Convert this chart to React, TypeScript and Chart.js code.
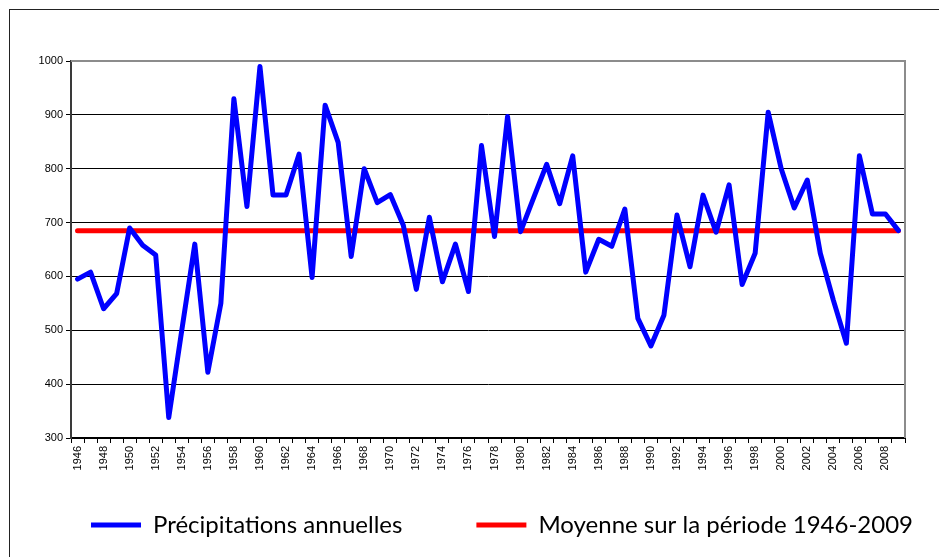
import React, { useEffect, useRef } from 'react';
import { Chart, registerables } from 'chart.js';

Chart.register(...registerables);

const years = [
  '1946', '1947', '1948', '1949', '1950', '1951', '1952', '1953', '1954', '1955',
  '1956', '1957', '1958', '1959', '1960', '1961', '1962', '1963', '1964', '1965',
  '1966', '1967', '1968', '1969', '1970', '1971', '1972', '1973', '1974', '1975',
  '1976', '1977', '1978', '1979', '1980', '1981', '1982', '1983', '1984', '1985',
  '1986', '1987', '1988', '1989', '1990', '1991', '1992', '1993', '1994', '1995',
  '1996', '1997', '1998', '1999', '2000', '2001', '2002', '2003', '2004', '2005',
  '2006', '2007', '2008', '2009',
];

const precipitation = [
  595, 608, 540, 568, 690, 658, 640, 338, 500, 660,
  422, 550, 930, 730, 990, 751, 751, 827, 598, 918,
  849, 637, 800, 737, 752, 695, 576, 710, 590, 660,
  572, 843, 674, 897, 683, 746, 808, 735, 824, 608,
  669, 656, 725, 522, 471, 528, 714, 618, 751, 682,
  770, 585, 643, 905, 800, 727, 779, 643, 556, 476,
  824, 716, 716, 685,
];

const meanValue = 685;

const seriesNames = ['Précipitations annuelles', 'Moyenne sur la période 1946-2009'];
const seriesColors = ['#0000FF', '#FF0000'];

const yMin = 300;
const yMax = 1000;
const yStep = 100;

const CANVAS_W = 1004;
const CANVAS_H = 557;

const plotFrame = {
  id: 'plotFrame',
  beforeDatasetsDraw(chart: any) {
    const { ctx, chartArea } = chart;
    ctx.save();
    ctx.strokeStyle = '#8c8c8c';
    ctx.lineWidth = 2;
    ctx.beginPath();
    ctx.moveTo(chartArea.left, chartArea.top);
    ctx.lineTo(chartArea.right, chartArea.top);
    ctx.lineTo(chartArea.right, chartArea.bottom);
    ctx.stroke();
    ctx.restore();
  },
};

export default function App() {
  const canvasRef = useRef<HTMLCanvasElement | null>(null);

  useEffect(() => {
    if (!canvasRef.current) return;
    const chart = new Chart(canvasRef.current, {
      type: 'line',
      data: {
        labels: years,
        datasets: [
          {
            label: seriesNames[0],
            data: precipitation,
            borderColor: seriesColors[0],
            backgroundColor: seriesColors[0],
            borderWidth: 5,
            pointRadius: 0,
            tension: 0,
            borderCapStyle: 'round',
            borderJoinStyle: 'round',
            yAxisID: 'y',
          },
          {
            label: seriesNames[1],
            data: years.map(() => meanValue),
            borderColor: seriesColors[1],
            backgroundColor: seriesColors[1],
            borderWidth: 5,
            pointRadius: 0,
            tension: 0,
            borderCapStyle: 'round',
            borderJoinStyle: 'round',
            yAxisID: 'y',
          },
        ],
      },
      options: {
        animation: false,
        responsive: false,
        maintainAspectRatio: false,
        layout: { padding: { left: 0, right: 0, top: 61, bottom: 10 } },
        plugins: {
          tooltip: { enabled: false },
          title: { display: false },
          legend: {
            display: true,
            position: 'bottom',
            align: 'center',
            labels: {
              usePointStyle: true,
              pointStyle: 'line',
              pointStyleWidth: 50,
              padding: 74,
              color: '#000',
              font: { family: 'Lato', size: 24 },
            },
          },
        },
        scales: {
          x: {
            type: 'category',
            offset: true,
            grid: {
              display: true,
              drawOnChartArea: false,
              drawTicks: true,
              tickLength: 5,
              offset: true,
              color: '#000',
              lineWidth: 1,
            },
            border: { display: true, color: '#000', width: 2 },
            ticks: {
              autoSkip: false,
              maxRotation: 90,
              minRotation: 90,
              mirror: true,
              padding: -8,
              labelOffset: 13.2,
              color: '#000',
              font: { family: 'Liberation Sans', size: 11 },
              callback: function (this: any, val: any, idx: number) {
                return idx % 2 === 0 ? this.getLabelForValue(val) : '';
              },
            },
            afterFit: (s: any) => {
              s.height = 1;
            },
          },
          y: {
            type: 'linear',
            position: 'left',
            min: yMin,
            max: yMax,
            grid: {
              display: true,
              drawOnChartArea: true,
              drawTicks: true,
              tickLength: 5,
              color: '#000',
              lineWidth: 1,
            },
            border: { display: true, color: '#3a3a3a', width: 2 },
            ticks: {
              stepSize: yStep,
              padding: 3,
              color: '#000',
              font: { family: 'Liberation Sans', size: 11 },
              callback: (v: any) => String(v),
            },
            afterFit: (s: any) => {
              s.width = 71;
            },
          },
          spacer: {
            type: 'linear',
            position: 'right',
            display: true,
            grid: { display: false, drawTicks: false },
            border: { display: false },
            ticks: { display: false },
            afterFit: (s: any) => {
              s.width = CANVAS_W - 905;
            },
          },
        },
      },
      plugins: [plotFrame],
    } as any);
    return () => chart.destroy();
  }, []);

  return (
    <div
      style={{
        position: 'fixed',
        left: 0,
        top: 0,
        width: 939,
        height: 557,
        overflow: 'hidden',
        background: '#fff',
      }}
    >
      <div
        style={{
          position: 'absolute',
          left: 9,
          top: 9,
          width: 1000,
          height: 700,
          borderLeft: '1.5px solid #222',
          borderTop: '1.5px solid #222',
        }}
      />
      <canvas
        ref={canvasRef}
        width={CANVAS_W}
        height={CANVAS_H}
        style={{ position: 'absolute', left: 0, top: 0, width: CANVAS_W, height: CANVAS_H }}
      />
    </div>
  );
}
